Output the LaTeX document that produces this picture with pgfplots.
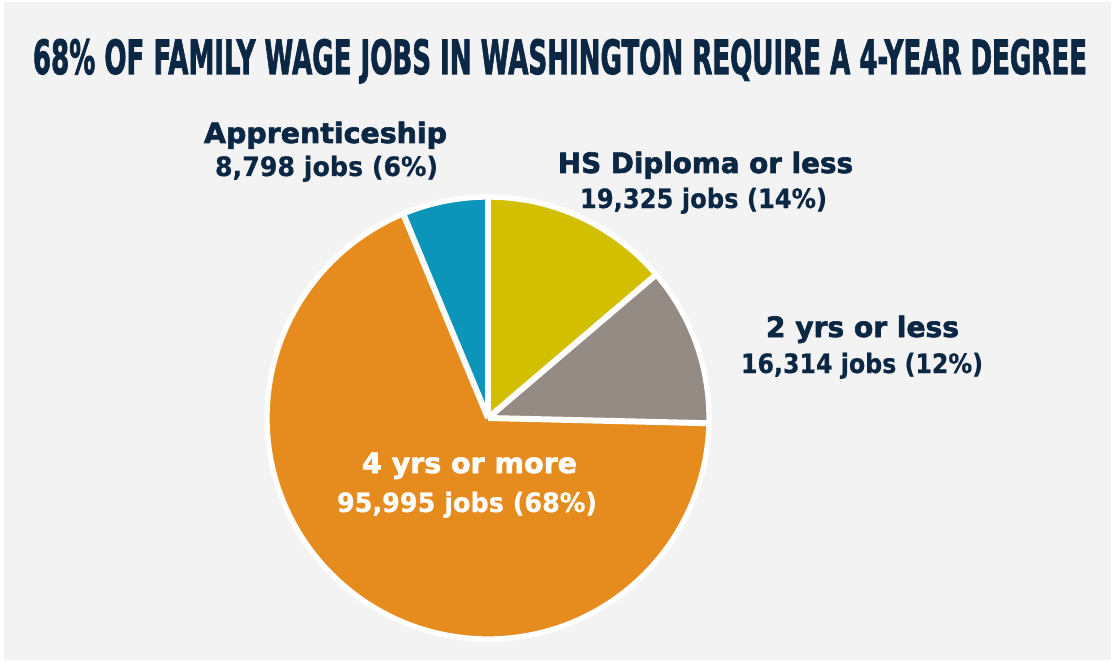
\documentclass[border=0pt]{standalone}
\usepackage{pgfplots}
\pgfplotsset{compat=1.18}
\usepackage{pgfplotstable}
\usepackage{graphicx}
\usepackage{fontspec}
\setmainfont{DejaVu Sans}
\newfontfamily\labfont[FakeBold=0.6]{DejaVu Sans Bold}
\newfontfamily\heavyfont[FakeBold=2.2]{DejaVu Sans Bold}
\newfontfamily\titlefont[FakeBold=2.2]{DejaVu Sans Bold}

\definecolor{bgcol}{HTML}{F3F3F3}
\definecolor{navy}{HTML}{0C2744}
\definecolor{hscol}{HTML}{D2C000}
\definecolor{twocol}{HTML}{958B85}
\definecolor{fourcol}{HTML}{E68C1E}
\definecolor{apprcol}{HTML}{0B95B8}

% jobs per education level, clockwise from 12 o'clock
\pgfplotstableread{
name value
HS    19325
Two   16314
Four  95995
Appr  8798
}\piedata

% line 1 (heavy) and line 2 of a label, stretched to the measured width
\newcommand\labA[2]{\resizebox{#1}{\height}{\fontsize{21}{22}\selectfont\heavyfont #2}}
\newcommand\labB[2]{\resizebox{#1}{\height}{\fontsize{20}{22}\selectfont\labfont #2}}

\begin{document}
\begin{tikzpicture}
\pgfplotstablegetelem{0}{value}\of\piedata \edef\vA{\pgfplotsretval}
\pgfplotstablegetelem{1}{value}\of\piedata \edef\vB{\pgfplotsretval}
\pgfplotstablegetelem{2}{value}\of\piedata \edef\vC{\pgfplotsretval}
\pgfplotstablegetelem{3}{value}\of\piedata \edef\vD{\pgfplotsretval}
\edef\tot{\fpeval{\vA+\vB+\vC+\vD}}
\edef\aA{90}
\edef\aB{\fpeval{\aA-360*\vA/\tot}}
\edef\aC{\fpeval{\aB-360*\vB/\tot}}
\edef\aD{\fpeval{\aC-360*\vC/\tot}}
\edef\aE{\fpeval{\aD-360*\vD/\tot}}
\begin{axis}[
    x=0.75pt, y=0.75pt,
    xmin=0, xmax=1115, ymin=0, ymax=662,
    hide axis, clip=false,
]
\fill[white] (axis cs:0,0) rectangle (axis cs:1115,662);
\fill[bgcol] (axis cs:4,2) rectangle (axis cs:1111,660);

% wedges
\fill[hscol] (axis cs:488,244) -- (axis cs:{488+221*cos(\aA)},{244+221*sin(\aA)}) arc[start angle=\aA, end angle=\aB, radius=165.75pt] -- cycle;
\fill[twocol] (axis cs:488,244) -- (axis cs:{488+221*cos(\aB)},{244+221*sin(\aB)}) arc[start angle=\aB, end angle=\aC, radius=165.75pt] -- cycle;
\fill[fourcol] (axis cs:488,244) -- (axis cs:{488+221*cos(\aC)},{244+221*sin(\aC)}) arc[start angle=\aC, end angle=\aD, radius=165.75pt] -- cycle;
\fill[apprcol] (axis cs:488,244) -- (axis cs:{488+221*cos(\aD)},{244+221*sin(\aD)}) arc[start angle=\aD, end angle=\aE, radius=165.75pt] -- cycle;

% white separators and rim
\draw[white, line width=4.5pt] (axis cs:488,244) -- (axis cs:{488+222*cos(\aA)},{244+222*sin(\aA)});
\draw[white, line width=4.5pt] (axis cs:488,244) -- (axis cs:{488+222*cos(\aB)},{244+222*sin(\aB)});
\draw[white, line width=4.5pt] (axis cs:488,244) -- (axis cs:{488+222*cos(\aC)},{244+222*sin(\aC)});
\draw[white, line width=4.5pt] (axis cs:488,244) -- (axis cs:{488+222*cos(\aD)},{244+222*sin(\aD)});
\draw[white, line width=4pt] (axis cs:488,244) circle[radius=165.75pt];

% title
\node[anchor=base, inner sep=0, text=navy] at (axis cs:560,588)
  {\resizebox{790.5pt}{26.25pt}{\titlefont 68\% OF FAMILY WAGE JOBS IN WASHINGTON REQUIRE A 4-YEAR DEGREE}};

% labels
\node[anchor=base, inner sep=0, text=navy] at (axis cs:325.5,519) {\labA{182.25pt}{Apprenticeship}};
\node[anchor=base, inner sep=0, text=navy] at (axis cs:326.5,486) {\labB{167.25pt}{8,798 jobs (6\%)}};
\node[anchor=base, inner sep=0, text=navy] at (axis cs:705.5,489) {\labA{221.25pt}{HS Diploma or less}};
\node[anchor=base, inner sep=0, text=navy] at (axis cs:703.5,454) {\labB{185.25pt}{19,325 jobs (14\%)}};
\node[anchor=base, inner sep=0, text=navy] at (axis cs:862.5,325) {\labA{144.75pt}{2 yrs or less}};
\node[anchor=base, inner sep=0, text=navy] at (axis cs:862,289) {\labB{181.5pt}{16,314 jobs (12\%)}};
\node[anchor=base, inner sep=0, text=white] at (axis cs:469.5,189) {\labA{161.25pt}{4 yrs or more}};
\node[anchor=base, inner sep=0, text=white] at (axis cs:467,150) {\labB{195pt}{95,995 jobs (68\%)}};
\end{axis}
\end{tikzpicture}
\end{document}
